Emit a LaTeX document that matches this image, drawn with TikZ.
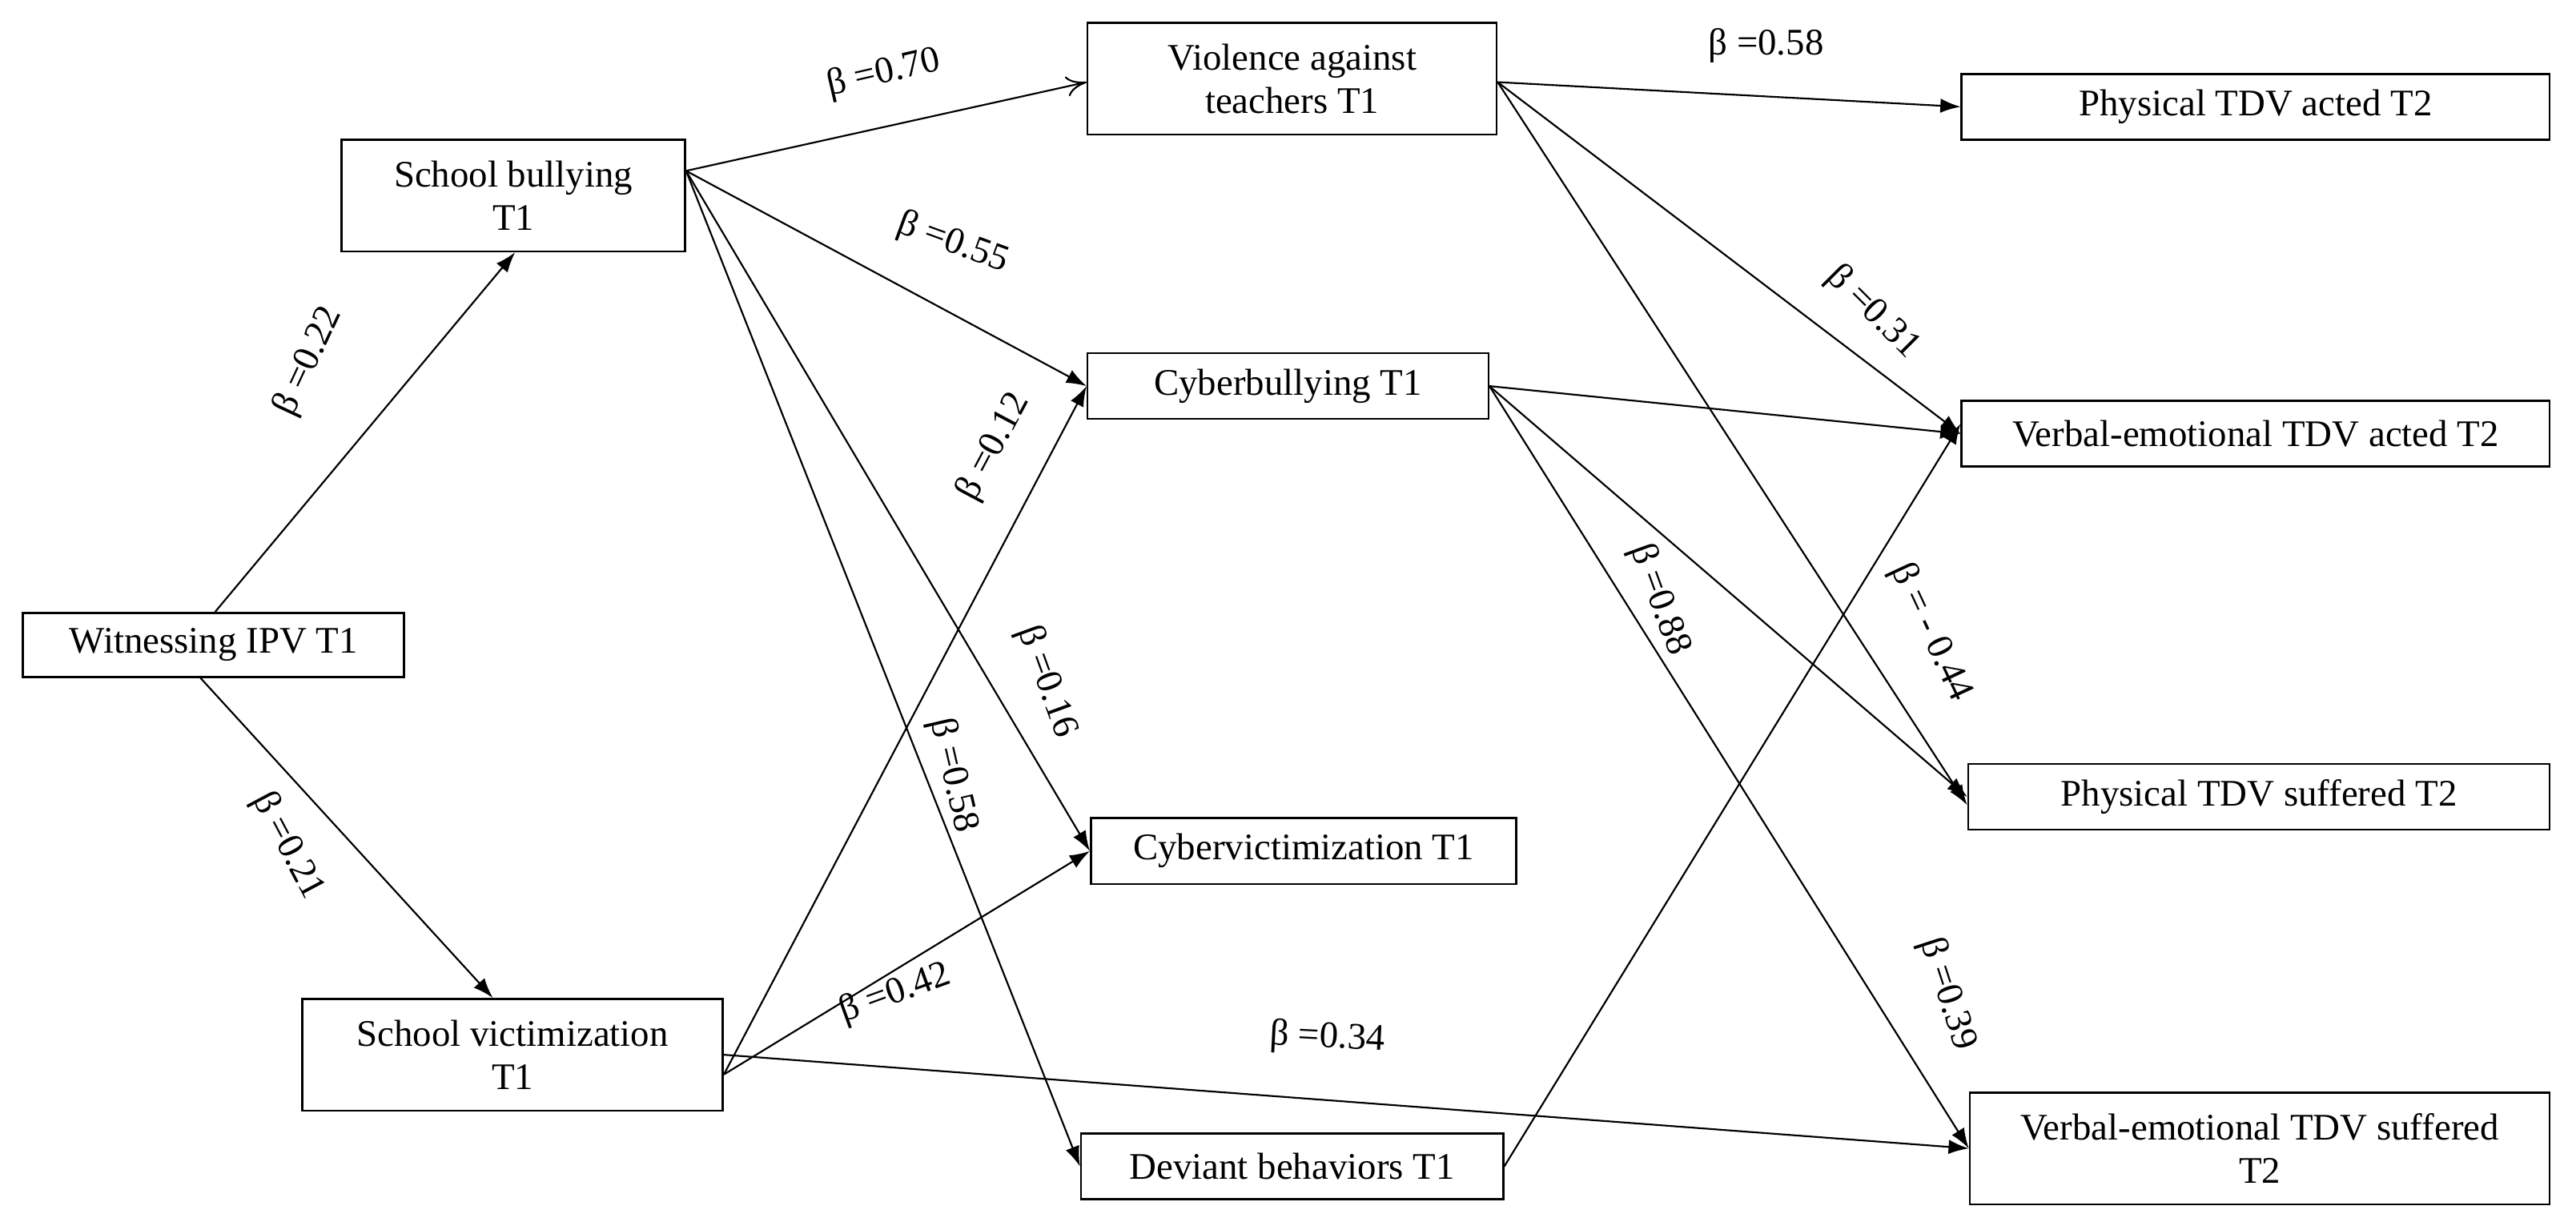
\documentclass[tikz,border=0pt]{standalone}
\usepackage{fontspec}
\setmainfont{Liberation Serif}
\usetikzlibrary{arrows.meta}
\begin{document}
\begin{tikzpicture}[x=0.02cm,y=-0.02cm,
  box/.style={draw,line width=0.7pt,font=\fontsize{13}{15}\selectfont,align=center,inner sep=0pt},
  arr/.style={line width=0.6pt,-{Latex[length=7pt,width=5pt]}},
  lab/.style={font=\fontsize{13}{15}\selectfont}]
\useasboundingbox (0,0) rectangle (1568,746);
\node[box,minimum width=232*0.02cm,minimum height=39*0.02cm] (w) at (130,392.5) {Witnessing IPV T1};
\node[box,minimum width=209*0.02cm,minimum height=68*0.02cm] (sb) at (312.5,119) {School bullying\\T1};
\node[box,minimum width=256*0.02cm,minimum height=68*0.02cm] (sv) at (312,642) {School victimization\\T1};
\node[box,minimum width=249*0.02cm,minimum height=68*0.02cm] (vt) at (786.5,48) {Violence against\\teachers T1};
\node[box,minimum width=244*0.02cm,minimum height=40*0.02cm] (cb) at (784,235) {Cyberbullying T1};
\node[box,minimum width=259*0.02cm,minimum height=40*0.02cm] (cv) at (793.5,518) {Cybervictimization T1};
\node[box,minimum width=257*0.02cm,minimum height=40*0.02cm] (db) at (786.5,710) {Deviant behaviors T1};
\node[box,minimum width=358*0.02cm,minimum height=40*0.02cm] (pa) at (1373,65) {Physical TDV acted T2};
\node[box,minimum width=358*0.02cm,minimum height=40*0.02cm] (va) at (1373,264) {Verbal-emotional TDV acted T2};
\node[box,minimum width=354*0.02cm,minimum height=40*0.02cm] (ps) at (1375,485) {Physical TDV suffered T2};
\node[box,minimum width=353*0.02cm,minimum height=68*0.02cm] (vs) at (1375.5,699) {Verbal-emotional TDV suffered\\T2};

\draw[arr] ([xshift=0.02cm]w.north) -- ([xshift=0.02cm]sb.south);
\draw[arr] ([xshift=-8*0.02cm]w.south) -- ([xshift=-12*0.02cm]sv.north);
\draw[line width=0.6pt,-{To[length=7pt,width=7pt]}] ([yshift=-15*-0.02cm]sb.east) -- ([yshift=2*-0.02cm]vt.west);
\draw[arr] ([yshift=-15*-0.02cm]sb.east) -- (cb.west);
\draw[arr] ([yshift=-15*-0.02cm]sb.east) -- (cv.west);
\draw[arr] ([yshift=-15*-0.02cm]sb.east) -- (db.west);
\draw[arr] ([yshift=12*-0.02cm]sv.east) -- (cb.west);
\draw[arr] ([yshift=12*-0.02cm]sv.east) -- (cv.west);
\draw[arr] (sv.east) -- (vs.west);
\draw[arr] ([yshift=2*-0.02cm]vt.east) -- (pa.west);
\draw[arr] ([yshift=2*-0.02cm]vt.east) -- (va.west);
\draw[arr] ([yshift=2*-0.02cm]vt.east) -- ([yshift=5*-0.02cm]ps.west);
\draw[arr] (cb.east) -- (va.west);
\draw[arr] (cb.east) -- (ps.west);
\draw[arr] (cb.east) -- (vs.west);
\draw[arr] (db.east) -- ([yshift=-6*-0.02cm]va.west);

\node[lab,rotate=65] (l1) at (188,220) {β =0.22};
\node[lab,rotate=-62] (l2) at (175,515) {β =0.21};
\node[lab,rotate=13] (l3) at (538,45) {β =0.70};
\node[lab,rotate=-20] (l4) at (580,148) {β =0.55};
\node[lab,rotate=62] (l5) at (605,272) {β =0.12};
\node[lab,rotate=-70] (l6) at (637,415) {β =0.16};
\node[lab,rotate=-77] (l7) at (580,472) {β =0.58};
\node[lab,rotate=20] (l8) at (545,605) {β =0.42};
\node[lab,rotate=-3] (l9) at (808,632) {β =0.34};
\node[lab] (l10) at (1075,28) {β =0.58};
\node[lab,rotate=-45] (l11) at (1140,190) {β =0.31};
\node[lab,rotate=-70] (l12) at (1010,365) {β =0.88};
\node[lab,rotate=-65] (l13) at (1175,385) {β = - 0.44};
\node[lab,rotate=-72] (l14) at (1185,605) {β =0.39};
\end{tikzpicture}
\end{document}
